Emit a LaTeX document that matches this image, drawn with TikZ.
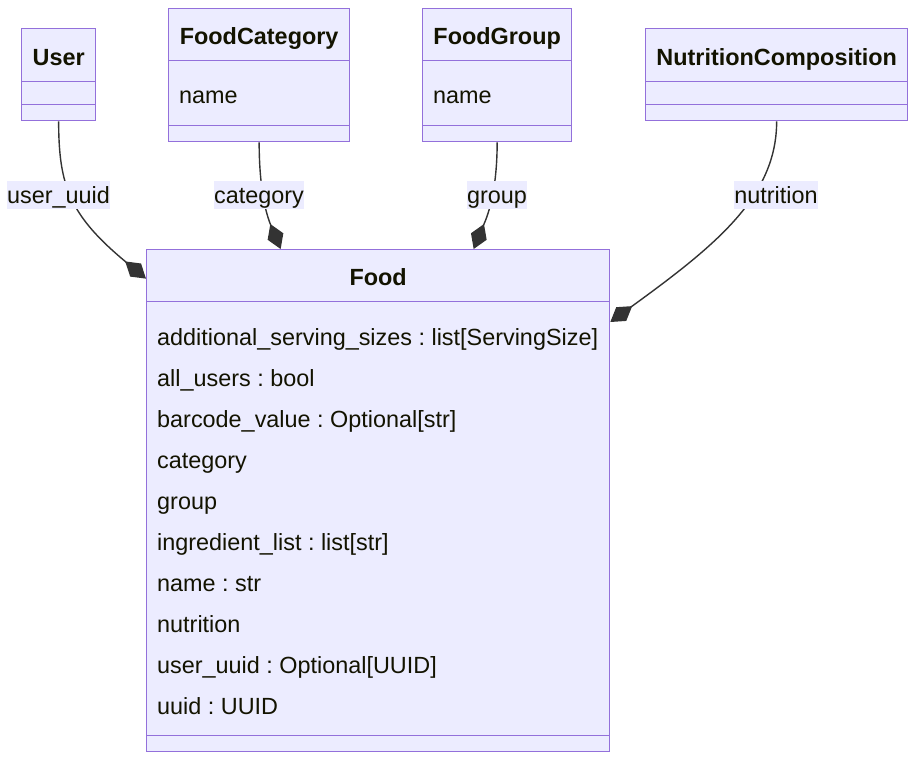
\documentclass[tikz,border=0pt]{standalone}
\usepackage{fontspec}
\setmainfont{Liberation Sans}
\usetikzlibrary{arrows.meta}
\definecolor{clsfill}{HTML}{ECECFF}
\definecolor{clsline}{HTML}{9370DB}
\definecolor{clstext}{HTML}{131300}
\definecolor{edgeline}{HTML}{333333}
\newcommand{\umlsize}{\fontsize{23.4}{28}\selectfont}
\frenchspacing

\begin{document}
\begin{tikzpicture}[x=1pt, y=-1pt,
    box/.style={draw=clsline, fill=clsfill, line width=1.3pt, anchor=north west, inner sep=0pt, minimum width=#1},
    title/.style={box=#1, font=\umlsize\bfseries, text=clstext, text height=25pt, text depth=5pt},
    member/.style={anchor=base west, inner sep=0pt, font=\umlsize, text=clstext},
    elabel/.style={fill=clsfill, inner sep=0pt, font=\umlsize, text=clstext, text height=22pt, text depth=6pt},
    compose/.style={draw=edgeline, line width=1.4pt, -{Diamond[length=27pt, width=17pt]}}
]
    \useasboundingbox (0,0) rectangle (912,760);

    % Classes
    \node[title=74pt, minimum height=53pt] (user) at (21,28) {User};
    \node[box=74pt, minimum height=23pt] (userattr) at (21,81) {};
    \node[box=74pt, minimum height=16pt] (useropr) at (21,104) {};

    \node[title=181pt, minimum height=52pt] (cat) at (168,8) {FoodCategory};
    \node[box=181pt, minimum height=65pt] (catattr) at (168,60) {};
    \node[box=181pt, minimum height=16pt] (catopr) at (168,125) {};
    \node[member] (catname) at (179,103) {name};

    \node[title=149pt, minimum height=52pt] (group) at (422,8) {FoodGroup};
    \node[box=149pt, minimum height=65pt] (groupattr) at (422,60) {};
    \node[box=149pt, minimum height=16pt] (groupopr) at (422,125) {};
    \node[member] (groupname) at (433,103) {name};

    \node[title=262pt, minimum height=53pt] (nut) at (645,28) {NutritionComposition};
    \node[box=262pt, minimum height=23pt] (nutattr) at (645,81) {};
    \node[box=262pt, minimum height=16pt] (nutopr) at (645,104) {};

    \node[title=463pt, minimum height=52pt] (food) at (146,249) {Food};
    \node[box=463pt, minimum height=434pt] (foodattr) at (146,301) {};
    \node[box=463pt, minimum height=16pt] (foodopr) at (146,735) {};
    \foreach \m [count=\i from 0] in {additional\_serving\_sizes : list[ServingSize],
        all\_users : bool, barcode\_value : Optional[str], category, group,
        ingredient\_list : list[str], name : str, nutrition,
        user\_uuid : Optional[UUID], uuid : UUID}
        \node[member] (foodm\i) at (157,345+41*\i) {\m};

    % Compositions
    \draw[compose] (useropr.south) .. controls +(0,65) and +(-76,-63) .. ([yshift=-3pt]food.west);
    \draw[compose] (catopr.south) .. controls +(0,54) and +(-12,-29) .. ([xshift=-97.5pt]food.north);
    \draw[compose] (groupopr.south) .. controls +(0,54) and +(12,-29) .. ([xshift=95.5pt]food.north);
    \draw[compose] (nutopr.south) .. controls +(0,75) and +(106,-77) .. ([yshift=-21pt]foodattr.north east);

    % Edge labels
    \node[elabel] (lbluser) at (58.5,195) {user\_uuid};
    \node[elabel] (lblcat) at (259,195) {category};
    \node[elabel] (lblgroup) at (497,195) {group};
    \node[elabel] (lblnut) at (776,195) {nutrition};
\end{tikzpicture}
\end{document}
